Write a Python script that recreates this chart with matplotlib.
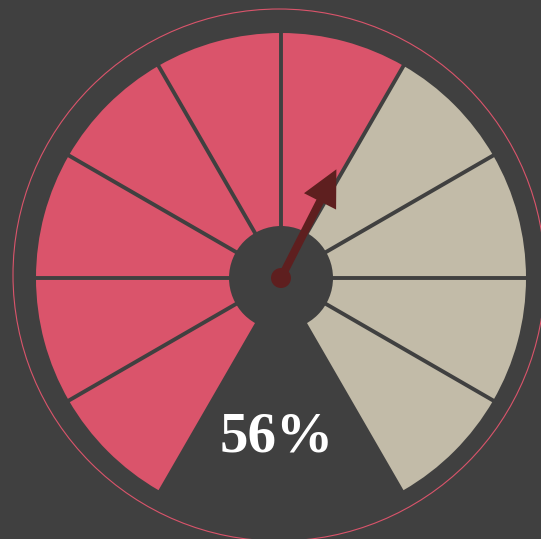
import numpy as np
import matplotlib
matplotlib.use("Agg")
import matplotlib.pyplot as plt
from matplotlib.patches import Wedge, Circle, FancyArrow

# данные
value = 56            # процент
n_segments = 10
filled = 6            # закрашенные сегменты
needle_deg = 27       # угол стрелки от вертикали, по часовой

bg = "#404040"
red = "#DA546B"
beige = "#C2BBA8"
needle_col = "#5E1F1F"

fig = plt.figure(figsize=(5.41, 5.39), dpi=100, facecolor=bg)
ax = fig.add_axes([0, 0, 1, 1])
ax.set_xlim(0, 541)
ax.set_ylim(0, 539)
ax.set_aspect("equal")
ax.axis("off")
ax.set_facecolor(bg)

cx, cy = 281, 539 - 278
r_out = 245

# внешнее тонкое кольцо
ax.add_patch(Circle((279, 539 - 275), 266, fill=False, edgecolor=red, lw=0.8))

# сегменты: от -150 до 150 градусов (от верха, по часовой)
start, span = -150, 300
step = span / n_segments
for i in range(n_segments):
    a1 = start + i * step
    a2 = a1 + step
    col = red if i < filled else beige
    ax.add_patch(Wedge((cx, cy), r_out, 90 - a2, 90 - a1, facecolor=col, edgecolor="none"))

# разделители
for i in range(1, n_segments):
    a = np.radians(start + i * step)
    ax.plot([cx, cx + r_out * 1.01 * np.sin(a)], [cy, cy + r_out * 1.01 * np.cos(a)],
            color=bg, lw=2.8, solid_capstyle="butt", zorder=2)

# центр
ax.add_patch(Circle((cx, cy), 52, facecolor=bg, edgecolor="none", zorder=3))

# стрелка
L = 122
a = np.radians(needle_deg)
ax.add_patch(FancyArrow(cx, cy, L * np.sin(a), L * np.cos(a), width=8, head_width=36,
                        head_length=36, length_includes_head=True,
                        facecolor=needle_col, edgecolor="none", zorder=4))
ax.add_patch(Circle((cx, cy), 10, facecolor=needle_col, edgecolor="none", zorder=5))

ax.text(277, 539 - 437, f"{value}%", ha="center", va="center", color="white",
        fontsize=41, fontweight="bold", family="Liberation Serif", zorder=6)

fig.savefig("out.png", dpi=100, facecolor=bg)
